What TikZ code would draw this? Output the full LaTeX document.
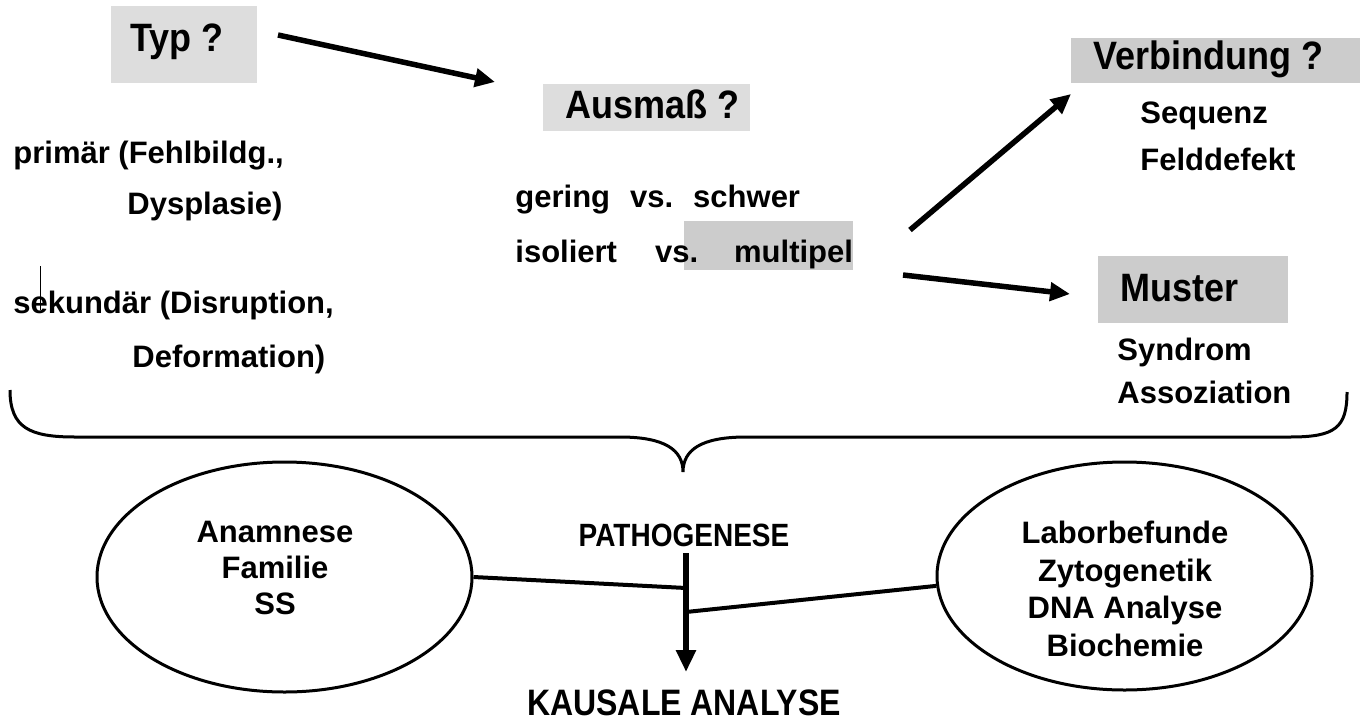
\documentclass[tikz,border=0pt]{standalone}
\usepackage{fontspec}
\usepackage{graphicx}
\setmainfont{Liberation Sans}
\usetikzlibrary{arrows.meta, shapes.geometric, calc}
\definecolor{BoxGray}{RGB}{221,221,221}
\definecolor{DotGray}{RGB}{204,204,204}
\newcommand{\hoch}[2][1.1]{\scalebox{1}[#1]{#2}}
\tikzstyle{txt} = [font=\fontsize{15.5}{18}\selectfont\bfseries, inner sep=0pt, anchor=base west]
\tikzstyle{head} = [font=\fontsize{18}{21}\selectfont\bfseries, inner sep=0pt, anchor=base west]
\tikzstyle{pfeil} = [line width=2.75pt, -{Triangle[length=10pt,width=9pt]}]
\tikzstyle{link} = [line width=2pt]
\tikzstyle{oval} = [draw, ellipse, line width=1.5pt, minimum width=187.5pt, minimum height=115pt]

\begin{document}
\begin{tikzpicture}[x=0.5pt, y=-0.5pt]
        \useasboundingbox (0,0) rectangle (1368,722);

        % Boxes
        \fill[BoxGray] (111,6) rectangle (257,83);
        \fill[BoxGray] (543,84) rectangle (750,131);
        \fill[DotGray] (1071,38) rectangle (1360,83);
        \fill[DotGray] (1098,256) rectangle (1288,323);
        \fill[DotGray] (684,221) rectangle (853,270);

        % Headings
        \node[head] (typ) at (130,52) {\hoch{Typ ?}};
        \node[head] (ausmass) at (565,119) {\hoch{Ausmaß ?}};
        \node[head] (verbindung) at (1093,69) {\hoch{Verbindung ?}};
        \node[head] (muster) at (1120,301) {\hoch{Muster}};

        % Typ
        \node[txt] (primaer) at (13,163) {primär (Fehlbildg.,};
        \node[txt] (dysplasie) at (127,214) {Dysplasie)};
        \node[txt] (sekundaer) at (13,313) {sekundär (Disruption,};
        \node[txt] (deformation) at (132,367) {Deformation)};
        \draw[line width=0.5pt] (40,266) -- (40,310);

        % Ausmass
        \node[txt] (gering) at (515,207) {gering\hspace{10pt}vs.\hspace{10pt}schwer};
        \node[txt] (isoliert) at (515,262) {isoliert\hspace{19pt}vs.\hspace{18pt}multipel};

        % Verbindung / Muster
        \node[txt] (sequenz) at (1140,123) {Sequenz};
        \node[txt] (felddefekt) at (1140,170) {Felddefekt};
        \node[txt] (syndrom) at (1117,360) {Syndrom};
        \node[txt] (assoziation) at (1117,403) {Assoziation};

        % Arrows
        \coordinate (typ-out) at (278,35);
        \coordinate (aus-in) at (495,82);
        \coordinate (ver-out) at (910,230);
        \coordinate (ver-in) at (1071,94);
        \coordinate (mus-out) at (903,275);
        \coordinate (mus-in) at (1070,294);
        \draw[pfeil] (typ-out) -- (aus-in);
        \draw[pfeil] (ver-out) -- (ver-in);
        \draw[pfeil] (mus-out) -- (mus-in);

        % Brace
        \draw[line width=1.5pt] (10,390) .. controls (10,428) and (30,437) .. (75,437)
            -- (620,437) .. controls (665,437) and (683,450) .. (683,472)
            .. controls (683,450) and (701,437) .. (746,437)
            -- (1290,437) .. controls (1335,437) and (1347,428) .. (1347,392);

        % Pathogenese
        \node[font=\fontsize{14}{17}\selectfont\bfseries, inner sep=0pt, anchor=base] (patho) at (684,546) {\hoch[1.15]{PATHOGENESE}};
        \node[font=\fontsize{16}{19}\selectfont\bfseries, inner sep=0pt, anchor=base] (kausal) at (684,715) {\hoch[1.15]{KAUSALE ANALYSE}};

        % Ellipses
        \node[oval] (anamnese) at (284.5,577) {};
        \node[txt, anchor=center, align=center] (anamnese-t) at (275,568) {Anamnese\\Familie\\SS};
        \node[oval, minimum height=114pt] (labor) at (1124.5,576) {};
        \node[txt, anchor=center, align=center, font=\fontsize{15.5}{18.7}\selectfont\bfseries] (labor-t) at (1125,589) {Laborbefunde\\Zytogenetik\\DNA Analyse\\Biochemie};

        % Stem
        \coordinate (stamm) at (686,553);
        \coordinate (spitze) at (686,672);
        \coordinate (knoten1) at (686,588);
        \coordinate (knoten2) at (686,612);
        \draw[line width=3pt, -{Triangle[length=11pt,width=9.5pt]}] (stamm) -- (spitze);
        \draw[link] (anamnese.east) -- (knoten1);
        \draw[link] (knoten2) -- (labor.183);

\end{tikzpicture}
\end{document}
